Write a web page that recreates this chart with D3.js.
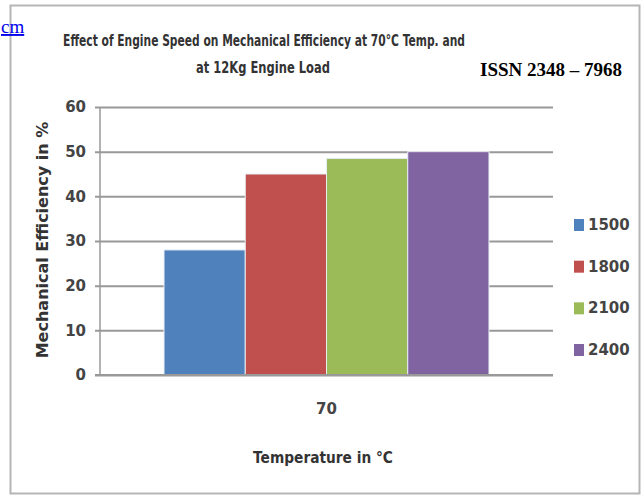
<!DOCTYPE html>
<html>
<head>
<meta charset="utf-8">
<script src="https://cdn.jsdelivr.net/npm/d3@7"></script>
<style>
  body { margin: 0; background: #fff; }
  svg { display: block; }
</style>
</head>
<body>
<script>
const categories = ['70'];
const series = ['1500', '1800', '2100', '2400'];
const values = [28, 45, 48.5, 50];
const yTicks = [0, 10, 20, 30, 40, 50, 60];
const colors = ['#4F81BD', '#C0504D', '#9BBB59', '#8064A2'];

const width = 644;
const height = 497;
const margin = { top: 107, right: 91, bottom: 122, left: 100 };
const innerWidth = width - margin.left - margin.right;
const chartFont = '"DejaVu Sans", sans-serif';

const svg = d3.select('body').append('svg')
  .attr('width', width)
  .attr('height', height);

// squeeze a text horizontally to a given width (the original uses a narrow font)
function fitWidth(sel, x, y, target, rotate) {
  const natural = sel.node().getComputedTextLength();
  const k = Math.min(1, target / natural);
  sel.attr('x', 0).attr('y', 0)
    .attr('transform', `translate(${x}, ${y})${rotate ? ' rotate(-90)' : ''} scale(${k}, 1)`);
}

// outer frame
svg.append('rect')
  .attr('x', 10.5).attr('y', 5.5)
  .attr('width', 629).attr('height', 488)
  .attr('fill', 'none')
  .attr('stroke', '#b5b5b5')
  .attr('stroke-width', 2);

// page leftovers
svg.append('text')
  .attr('x', 1).attr('y', 33)
  .attr('font-family', '"Liberation Serif", serif')
  .attr('font-size', 19)
  .attr('fill', '#0000ee')
  .attr('text-decoration', 'underline')
  .text('cm');

svg.append('text')
  .attr('x', 622).attr('y', 76)
  .attr('text-anchor', 'end')
  .attr('font-family', '"Liberation Serif", serif')
  .attr('font-weight', 'bold')
  .attr('font-size', 19)
  .attr('fill', '#000')
  .text('ISSN 2348 \u2013 7968');

// title
const title = svg.append('g')
  .attr('font-family', chartFont)
  .attr('font-size', 16)
  .attr('font-weight', 'bold')
  .attr('fill', '#333')
  .attr('text-anchor', 'middle');
fitWidth(title.append('text')
  .text('Effect of Engine Speed on Mechanical Efficiency at 70\u00B0C Temp. and'), 264, 46, 402);
fitWidth(title.append('text')
  .text('at 12Kg Engine Load'), 263, 73, 134);

// scales in page coordinates
const xScale = d3.scaleBand()
  .domain(categories)
  .range([margin.left, width - margin.right])
  .paddingInner(0)
  .paddingOuter(0.197);

const seriesScale = d3.scaleBand()
  .domain(series)
  .range([0, xScale.bandwidth()]);

const yScale = d3.scaleLinear()
  .domain([0, 60])
  .range([height - margin.bottom, margin.top]);

const colorScale = d3.scaleOrdinal().domain(series).range(colors);

// gridlines + tick labels
const yAxis = d3.axisLeft(yScale)
  .tickValues(yTicks)
  .tickSize(-innerWidth - 5)
  .tickSizeOuter(0)
  .tickPadding(9);

const yAxisG = svg.append('g')
  .attr('transform', `translate(${margin.left - 5}, 0)`)
  .call(yAxis)
  .attr('font-family', chartFont)
  .attr('font-size', 15);
yAxisG.select('.domain').remove();
yAxisG.selectAll('.tick line')
  .attr('stroke', '#999')
  .attr('stroke-width', 2);
yAxisG.selectAll('.tick text')
  .attr('font-weight', 'bold')
  .attr('fill', '#444');

// vertical axis line
svg.append('line')
  .attr('x1', margin.left).attr('x2', margin.left)
  .attr('y1', yScale(60)).attr('y2', yScale(0))
  .attr('stroke', '#999')
  .attr('stroke-width', 1.5);

// bars
const data = series.map((s, i) => ({ series: s, category: categories[0], value: values[i] }));
svg.selectAll('rect.bar').data(data)
  .enter().append('rect')
  .attr('class', 'bar')
  .attr('x', d => xScale(d.category) + seriesScale(d.series))
  .attr('y', d => yScale(d.value))
  .attr('width', seriesScale.bandwidth())
  .attr('height', d => yScale(0) - yScale(d.value))
  .attr('fill', d => colorScale(d.series))
  .attr('stroke', '#e8eef6')
  .attr('stroke-width', 1);

// baseline
svg.append('line')
  .attr('x1', margin.left - 5).attr('x2', width - margin.right)
  .attr('y1', yScale(0)).attr('y2', yScale(0))
  .attr('stroke', '#999')
  .attr('stroke-width', 2);

// x axis category labels
const xAxis = d3.axisBottom(xScale).tickSize(0).tickPadding(28);
const xAxisG = svg.append('g')
  .attr('transform', `translate(0, ${yScale(0)})`)
  .call(xAxis)
  .attr('font-family', chartFont)
  .attr('font-size', 15);
xAxisG.select('.domain').remove();
xAxisG.selectAll('.tick text')
  .attr('font-weight', 'bold')
  .attr('fill', '#444');

// axis titles
const axisTitles = svg.append('g')
  .attr('text-anchor', 'middle')
  .attr('font-family', chartFont)
  .attr('font-size', 16)
  .attr('font-weight', 'bold')
  .attr('fill', '#333');
fitWidth(axisTitles.append('text').text('Temperature in \u00B0C'), 323, 463, 140);
fitWidth(axisTitles.append('text').text('Mechanical Efficiency in %'), 48, 240, 238, true);

// legend
const legendY = d3.scalePoint().domain(series).range([225, 350]);
const legend = svg.append('g')
  .attr('font-family', chartFont)
  .attr('font-size', 15);
legend.selectAll('rect').data(series)
  .enter().append('rect')
  .attr('x', 574).attr('y', d => legendY(d) - 6)
  .attr('width', 10).attr('height', 12)
  .attr('fill', d => colorScale(d));
legend.selectAll('text').data(series)
  .enter().append('text')
  .attr('x', 588).attr('y', d => legendY(d) + 5)
  .attr('font-weight', 'bold')
  .attr('fill', '#444')
  .text(d => d);
</script>
</body>
</html>
